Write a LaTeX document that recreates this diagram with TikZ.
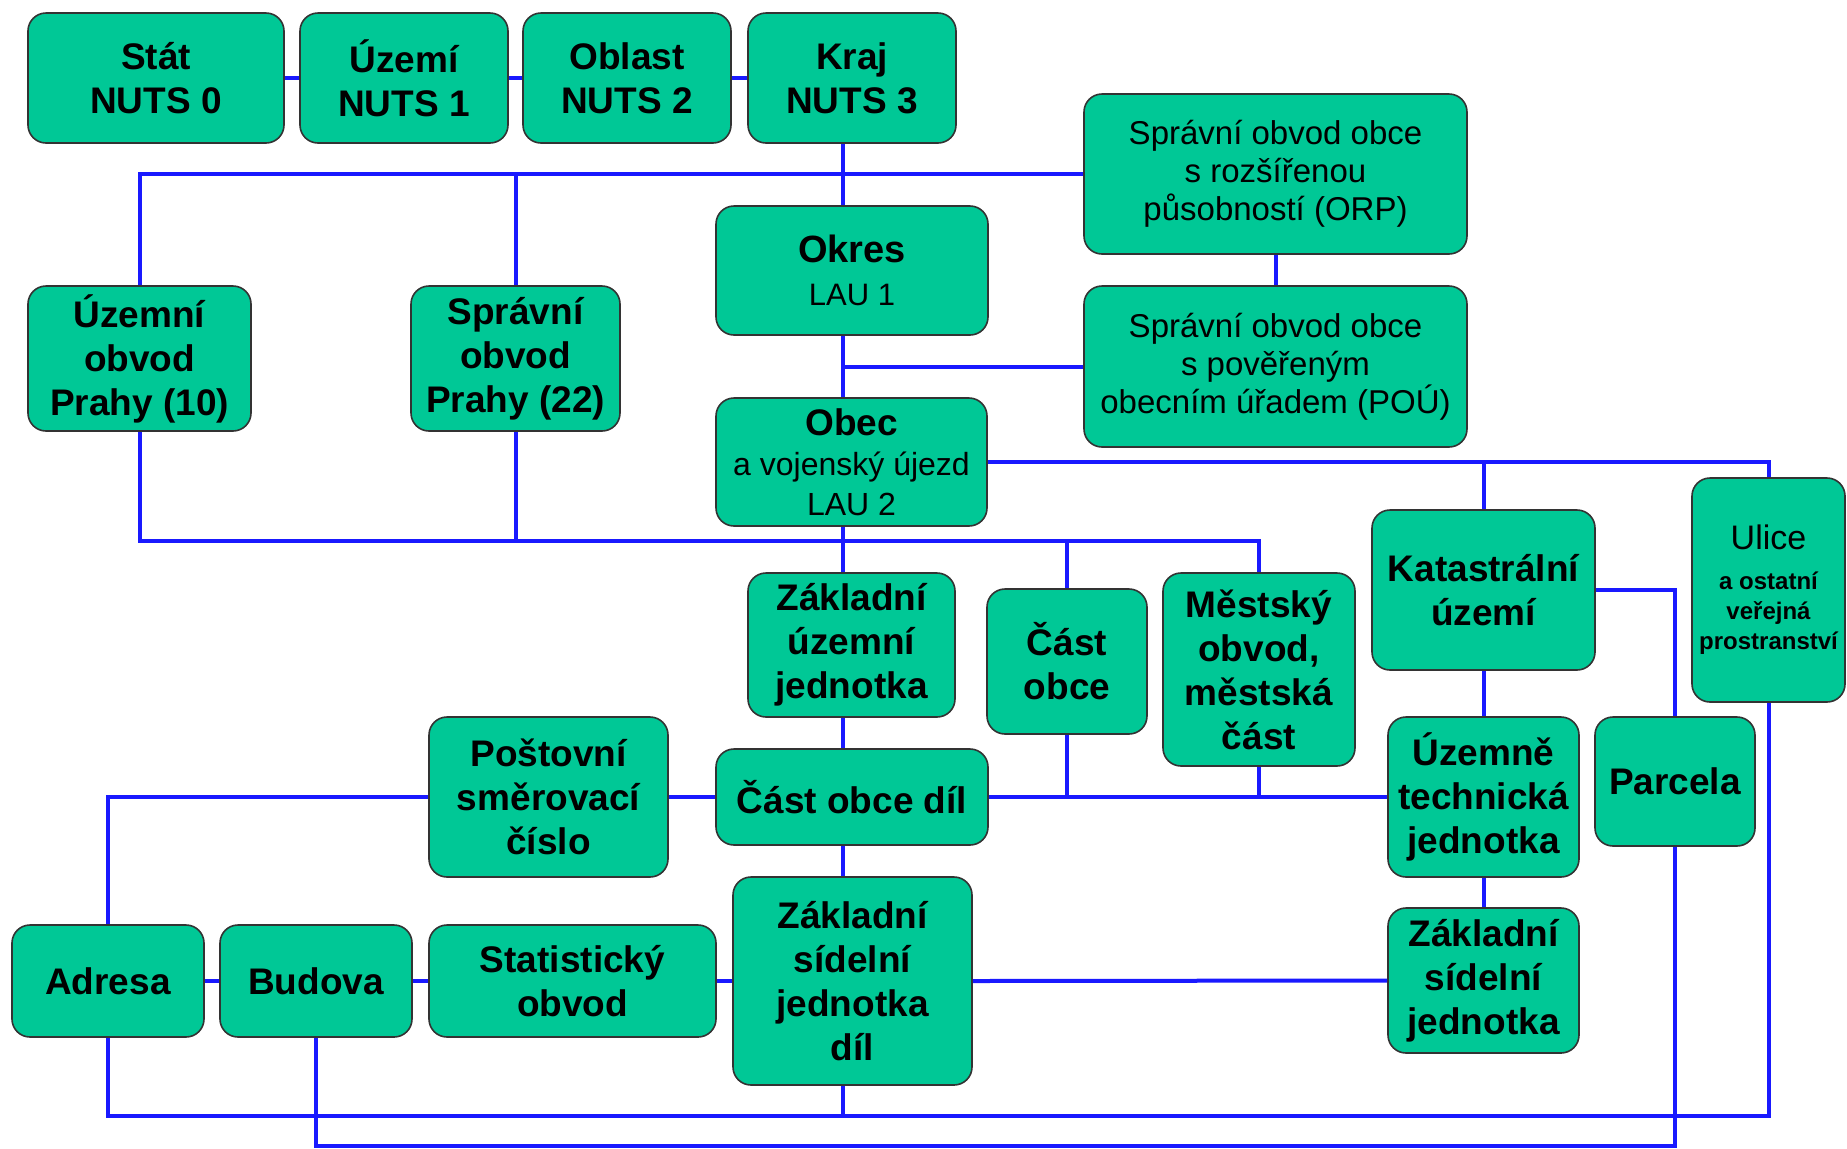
\documentclass[tikz,border=0pt]{standalone}
\usepackage{fontspec}
\setmainfont{Liberation Sans}
\definecolor{boxfill}{RGB}{0,200,150}
\definecolor{linkblue}{RGB}{25,25,255}
\newcommand\mybox[7][]{\node[box,minimum width={(#5-#3)*0.5pt},minimum height={(#6-#4)*0.5pt},#1] (#2) at ({(#3+#5)/2},{(#4+#6)/2}) {#7};}
\begin{document}
\begin{tikzpicture}[x=0.5pt,y=-0.5pt,
  box/.style={draw=black!80, line width=0.8pt, fill=boxfill, rounded corners=9pt, align=center, inner sep=0pt, font=\bfseries\fontsize{18.5}{22}\selectfont},
  small/.style={font=\fontsize{16.5}{19}\selectfont},
  link/.style={draw=linkblue, line width=2pt}]
\useasboundingbox (0,0) rectangle (1847,1148);
\coordinate (tr) at (843,0);
\coordinate (b2) at (0,541);
\coordinate (b3) at (0,1116);
\coordinate (b4) at (0,1146);
% boxes
\mybox{stat}{28}{13}{284}{143}{Stát\\NUTS 0}
\mybox{uzemi}{300}{13}{508}{143}{Území\\NUTS 1}
\mybox{oblast}{523}{13}{731}{143}{Oblast\\NUTS 2}
\mybox{kraj}{748}{13}{956}{143}{Kraj\\NUTS 3}
\mybox[small]{orp}{1084}{94}{1467}{254}{Správní obvod obce\\s rozšířenou\\působností (ORP)}
\mybox[font=\fontsize{15.5}{21.5}\selectfont]{okres}{716}{206}{988}{335}{{\bfseries\fontsize{19}{21.5}\selectfont Okres}\\LAU 1}
\mybox[small]{pou}{1084}{286}{1467}{447}{Správní obvod obce\\s pověřeným\\obecním úřadem (POÚ)}
\mybox{uop}{28}{286}{251}{431}{Územní\\obvod\\Prahy (10)}
\mybox{sop}{411}{286}{620}{431}{Správní\\obvod\\Prahy (22)}
\mybox[font=\fontsize{16}{20}\selectfont]{obec}{716}{398}{987}{526}{{\bfseries\fontsize{18.5}{20}\selectfont Obec}\\a vojenský újezd\\LAU 2}
\mybox[font=\bfseries\fontsize{12}{15}\selectfont]{ulice}{1692}{478}{1845}{702}{{\mdseries\fontsize{17}{15}\selectfont Ulice}\\[5pt]a ostatní\\veřejná\\prostranství}
\mybox{kat}{1372}{510}{1595}{670}{Katastrální\\území}
\mybox{zuj}{748}{573}{955}{717}{Základní\\územní\\jednotka}
\mybox{cast}{987}{589}{1147}{734}{Část\\obce}
\mybox{mest}{1163}{573}{1355}{766}{Městský\\obvod,\\městská\\část}
\mybox{psc}{429}{717}{668}{877}{Poštovní\\směrovací\\číslo}
\mybox{cod}{716}{749}{988}{845}{Část obce díl}
\mybox{utj}{1388}{717}{1579}{877}{Územně\\technická\\jednotka}
\mybox{parcela}{1595}{717}{1755}{846}{Parcela}
\mybox{zsjd}{733}{877}{972}{1085}{Základní\\sídelní\\jednotka\\díl}
\mybox{zsj}{1388}{908}{1579}{1053}{Základní\\sídelní\\jednotka}
\mybox{adresa}{12}{925}{204}{1037}{Adresa}
\mybox{budova}{220}{925}{412}{1037}{Budova}
\mybox{statob}{429}{925}{716}{1037}{Statistický\\obvod}
% connectors
\draw[link] (stat.east) -- (uzemi.west);
\draw[link] (uzemi.east) -- (oblast.west);
\draw[link] (oblast.east) -- (kraj.west);
\draw[link] (kraj.south -| tr) -- (okres.north -| tr);
\draw[link] (uop.north) |- (orp.west);
\draw[link] (sop.north) -- (sop.north |- orp.west);
\draw[link] (orp.south) -- (pou.north);
\draw[link] (okres.south -| tr) -- (obec.north -| tr);
\draw[link] (pou.west) -- (pou.west -| tr);
\draw[link] (obec.east) -| (ulice.north);
\draw[link] (kat.north) -- (kat.north |- obec.east);
\draw[link] (uop.south) -- (uop.south |- b2) -| (mest.north);
\draw[link] (sop.south) -- (sop.south |- b2);
\draw[link] (obec.south -| tr) -- (zuj.north -| tr);
\draw[link] (cast.north) -- (cast.north |- b2);
\draw[link] (zuj.south -| tr) -- (cod.north -| tr);
\draw[link] (cod.west) -- (psc.east);
\draw[link] (psc.west) -| (adresa.north);
\draw[link] (cod.east) -- (utj.west);
\draw[link] (cast.south) -- (cast.south |- cod.east);
\draw[link] (mest.south) -- (mest.south |- cod.east);
\draw[link] (cod.south -| tr) -- (zsjd.north -| tr);
\draw[link] (kat.east) -| (parcela.north);
\draw[link] (kat.south) -- (utj.north);
\draw[link] (utj.south) -- (zsj.north);
\draw[link] (adresa.east) -- (budova.west);
\draw[link] (budova.east) -- (statob.west);
\draw[link] (statob.east) -- (zsjd.west);
\draw[link] (zsjd.east) -- (zsj.west);
\draw[link] (adresa.south) -- (adresa.south |- b3) -| (ulice.south);
\draw[link] (zsjd.south -| tr) -- (tr |- b3);
\draw[link] (budova.south) -- (budova.south |- b4) -| (parcela.south);
\end{tikzpicture}
\end{document}
